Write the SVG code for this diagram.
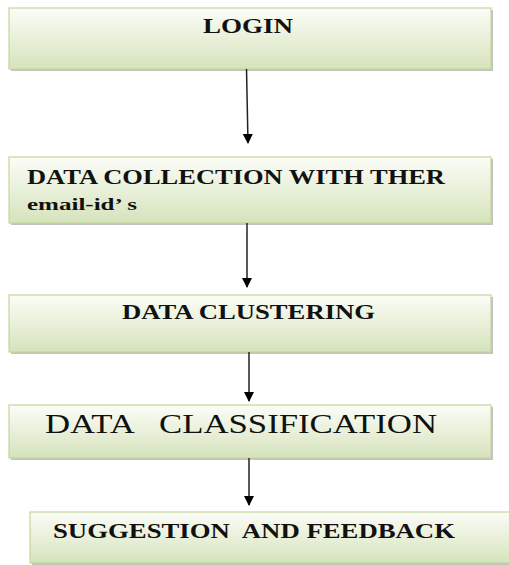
<svg xmlns="http://www.w3.org/2000/svg" width="509" height="565" viewBox="0 0 509 565">
<defs>
<linearGradient id="g" x1="0" y1="0" x2="0" y2="1">
<stop offset="0" stop-color="#fbfdf7"/>
<stop offset="1" stop-color="#d6e3bc"/>
</linearGradient>
<marker id="ah" markerWidth="10" markerHeight="10" refX="9" refY="5" orient="auto" markerUnits="userSpaceOnUse">
<path d="M0,0 L10,5 L0,10 z" fill="#000"/>
</marker>
</defs>
<style>
.box{fill:url(#g);stroke:#c3d69b;stroke-width:1.2}
.sh{fill:#9a9a9a;opacity:0.6}
.t{font-family:"Liberation Serif","Times New Roman",serif;fill:#111;white-space:pre}
.b{font-weight:bold}
.c{stroke:#222;stroke-width:1.5;fill:none;marker-end:url(#ah)}
</style>
<rect width="509" height="565" fill="#fff"/>
<g id="login">
<rect class="sh" x="11" y="10" width="482" height="61"/>
<rect class="box" x="9" y="8" width="482" height="61"/>
<text class="t b" x="203" y="33" font-size="20" textLength="90" lengthAdjust="spacingAndGlyphs">LOGIN</text>
</g>
<g id="collection">
<rect class="sh" x="11" y="159" width="482" height="66"/>
<rect class="box" x="9" y="157" width="482" height="66"/>
<text class="t b" x="27" y="184" font-size="20" textLength="418" lengthAdjust="spacingAndGlyphs">DATA COLLECTION WITH THER</text>
<text class="t b" x="27" y="210" font-size="17" textLength="110" lengthAdjust="spacingAndGlyphs">email-id’ s</text>
</g>
<g id="clustering">
<rect class="sh" x="11" y="297" width="482" height="57"/>
<rect class="box" x="9" y="295" width="482" height="57"/>
<text class="t b" x="122" y="319" font-size="20" textLength="253" lengthAdjust="spacingAndGlyphs">DATA CLUSTERING</text>
</g>
<g id="classification">
<rect class="sh" x="11" y="407" width="482" height="53"/>
<rect class="box" x="9" y="405" width="482" height="53"/>
<text class="t" x="45" y="433" font-size="27" textLength="392" lengthAdjust="spacingAndGlyphs" xml:space="preserve">DATA   CLASSIFICATION</text>
</g>
<g id="suggestion">
<rect class="sh" x="32" y="514" width="490" height="52"/>
<rect class="box" x="30" y="512" width="490" height="51"/>
<text class="t b" x="53" y="538" font-size="20" textLength="402" lengthAdjust="spacingAndGlyphs" xml:space="preserve">SUGGESTION  AND FEEDBACK</text>
</g>
<g id="connectors">
<path class="c" d="M246.5,69 L248,143"/>
<path class="c" d="M247,223 L247,287"/>
<path class="c" d="M249,352 L249,401"/>
<path class="c" d="M249,458 L249,505"/>
</g>
</svg>
